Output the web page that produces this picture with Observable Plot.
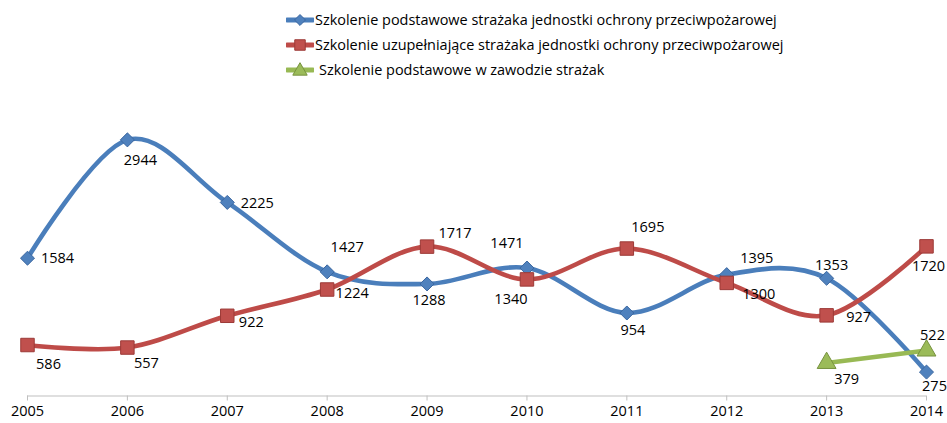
<!DOCTYPE html>
<html>
<head>
<meta charset="utf-8">
<script src="https://cdn.jsdelivr.net/npm/d3@7"></script>
<script src="https://cdn.jsdelivr.net/npm/@observablehq/plot@0.6"></script>
<style>
  html, body { margin: 0; padding: 0; background: #fff; }
  body { width: 947px; height: 423px; overflow: hidden; font-family: "Open Sans", sans-serif; }
  #legend { height: 85px; box-sizing: border-box; padding-top: 7px; padding-left: 286px; }
  .row { height: 25px; display: flex; align-items: center; font-size: 14.45px; color: #000; }
  .row svg { margin-right: 1px; flex: none; }
</style>
</head>
<body>
<div id="legend"></div>
<div id="chart"></div>
<script>
// ---- data ----
const years = [2005, 2006, 2007, 2008, 2009, 2010, 2011, 2012, 2013, 2014];
const basic = [1584, 2944, 2225, 1427, 1288, 1471, 954, 1395, 1353, 275];
const supplementary = [586, 557, 922, 1224, 1717, 1340, 1695, 1300, 927, 1720];
const professionalYears = [2013, 2014];
const professional = [379, 522];
const seriesNames = [
  "Szkolenie podstawowe strażaka jednostki ochrony przeciwpożarowej",
  "Szkolenie uzupełniające strażaka jednostki ochrony przeciwpożarowej",
  "Szkolenie podstawowe w zawodzie strażak"
];

// ---- layout (label placement, px offsets from the point) ----
const basicLabelOffsets = [[30,0],[13,20],[30,1],[20,-24],[2,16],[-20,-25],[6,17],[30,-16],[5,-13],[8,14]];
const supplementaryLabelOffsets = [[21,19],[19,16],[24,7],[25,4],[28,-13],[-16,20],[21,-21],[32,11],[32,2],[2,20]];
const professionalLabelOffsets = [[20,16],[6,-15]];

const colors = {
  line: ["#4A7EBB", "#BE4B48", "#98B954"],
  fill: ["#4F81BD", "#C0504D", "#9BBB59"],
  stroke: ["#3B67A0", "#9C3A37", "#77923F"]
};

const diamond = {
  draw(context, size) {
    const r = Math.sqrt(size / 2);
    context.moveTo(0, -r); context.lineTo(r, 0); context.lineTo(0, r); context.lineTo(-r, 0); context.closePath();
  }
};

const mk = (xs, ys, offs, s) => xs.map((x, i) => ({year: x, value: ys[i], dx: offs[i][0], dy: offs[i][1], s}));
const dBasic = mk(years, basic, basicLabelOffsets, 0);
const dSupp = mk(years, supplementary, supplementaryLabelOffsets, 1);
const dProf = mk(professionalYears, professional, professionalLabelOffsets, 2);

const symbols = [diamond, "square", "triangle"];
const radii = [5.6, 7.6, 7];

function seriesMarks(data, s) {
  return [
    Plot.line(data, {x: "year", y: "value", stroke: colors.line[s], strokeWidth: 4.6, curve: "cardinal"}),
    Plot.dot(data, {x: "year", y: "value", symbol: symbols[s], r: radii[s], fill: colors.fill[s], stroke: colors.stroke[s], strokeWidth: 1})
  ];
}
function labelMarks(data) {
  return data.map(d => Plot.text([d], {x: "year", y: "value", text: d => String(d.value), dx: d.dx, dy: d.dy,
    fontSize: 14.5, fill: "#000", fontFamily: "Open Sans"}));
}

const chart = Plot.plot({
  width: 947,
  height: 338,
  marginLeft: 27,
  marginRight: 21,
  marginTop: 6,
  marginBottom: 27.5,
  style: {fontFamily: "Open Sans", background: "#fff", overflow: "visible"},
  x: {domain: [years[0], years[years.length - 1]], label: null},
  y: {domain: [0, 3500], axis: null},
  marks: [
    Plot.ruleY([0], {x1: years[0], x2: years[years.length - 1], stroke: "#BFBFBF", strokeWidth: 1.2}),
    Plot.axisX({ticks: years, tickFormat: d => String(d), tickSize: 5, tickPadding: 5, stroke: "#BFBFBF", fontSize: 14.5, fill: "#000", label: null}),
    ...seriesMarks(dBasic, 0),
    ...seriesMarks(dSupp, 1),
    ...seriesMarks(dProf, 2),
    ...labelMarks(dBasic),
    ...labelMarks(dSupp),
    ...labelMarks(dProf)
  ]
});
document.getElementById("chart").appendChild(chart);

// ---- legend ----
const legend = d3.select("#legend");
seriesNames.forEach((name, s) => {
  const row = legend.append("div").attr("class", "row");
  const svg = row.append("svg").attr("width", 28).attr("height", 16);
  svg.append("line").attr("x1", 1).attr("x2", 27).attr("y1", 8).attr("y2", 8)
    .attr("stroke", colors.line[s]).attr("stroke-width", 5).attr("stroke-linecap", "round");
  const sym = s === 0 ? diamond : s === 1 ? d3.symbolSquare : d3.symbolTriangle;
  const size = s === 0 ? 60 : s === 1 ? 110 : 90;
  svg.append("path").attr("d", d3.symbol(sym, size)()).attr("transform", `translate(14,${s === 2 ? 9 : 8})`)
    .attr("fill", colors.fill[s]).attr("stroke", colors.stroke[s]).attr("stroke-width", 1);
  row.append("span").text(name).style("margin-left", s === 2 ? "4px" : "0px");
});
</script>
</body>
</html>
